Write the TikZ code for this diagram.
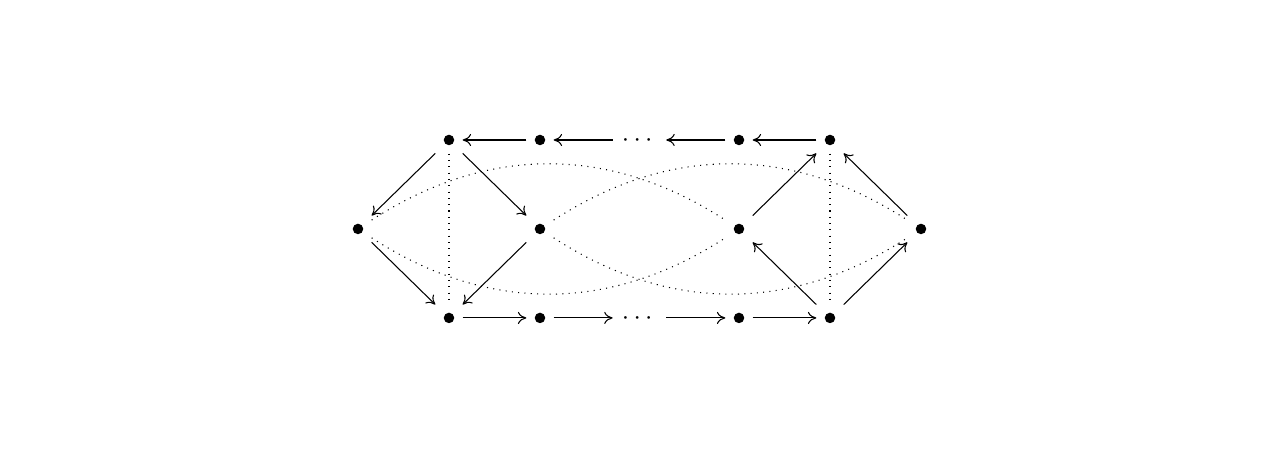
\documentclass[tikz,border=0pt]{standalone}
\usepackage{amsmath}
\usepackage{tikz}
\usetikzlibrary{arrows.meta}

\tikzset{
  vertex/.style={rectangle, inner sep=0pt, minimum size=10pt,
    path picture={\fill (path picture bounding box.center) circle (2pt);}},
  gap/.style={inner sep=0.3333em, text height=5pt, text depth=0pt},
  link/.style={-{Computer Modern Rightarrow[length=3.2pt,width=4.6pt]}},
  guide/.style={dotted}
}

\begin{document}
\begin{tikzpicture}[x=1.216cm,y=1.189cm]
\useasboundingbox (-3.934,-2.607) rectangle (10.132,2.573);
% vertices
\node [vertex] (l) at (0,0) {};
\node [vertex] (t1) at (1,1) {};
\node [vertex] (t2) at (2,1) {};
\node [gap] (tdots) at (3.093,1) {$\cdots$};
\node [vertex] (t3) at (4.187,1) {};
\node [vertex] (t4) at (5.187,1) {};
\node [vertex] (m1) at (2,0) {};
\node [vertex] (m2) at (4.187,0) {};
\node [vertex] (r) at (6.187,0) {};
\node [vertex] (b1) at (1,-1) {};
\node [vertex] (b2) at (2,-1) {};
\node [gap] (bdots) at (3.093,-1) {$\cdots$};
\node [vertex] (b3) at (4.187,-1) {};
\node [vertex] (b4) at (5.187,-1) {};
% top and bottom rows
\draw [link] (t2) -- (t1);
\draw [link] (tdots) -- (t2);
\draw [link] (t3) -- (tdots);
\draw [link] (t4) -- (t3);
\draw [link] (b1) -- (b2);
\draw [link] (b2) -- (bdots);
\draw [link] (bdots) -- (b3);
\draw [link] (b3) -- (b4);
% diagonals
\draw [link] (t1) -- (l);
\draw [link] (t1) -- (m1);
\draw [link] (m1) -- (b1);
\draw [link] (l) -- (b1);
\draw [link] (m2) -- (t4);
\draw [link] (b4) -- (m2);
\draw [link] (r) -- (t4);
\draw [link] (b4) -- (r);
% dotted guides
\draw [guide] (t1) -- (b1);
\draw [guide] (t4) -- (b4);
\draw [guide] (l) to [bend left=33] (m2);
\draw [guide] (l) to [bend right=33] (m2);
\draw [guide] (m1) to [bend left=33] (r);
\draw [guide] (m1) to [bend right=33] (r);
\end{tikzpicture}
\end{document}
